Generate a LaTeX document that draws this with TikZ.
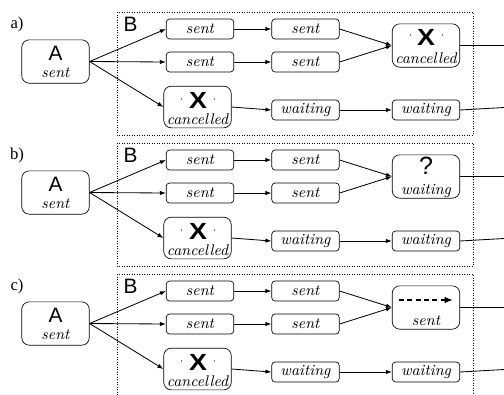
\documentclass[tikz,border=0pt]{standalone}
\usepackage{fontspec}
\setmainfont{Liberation Serif}
\setsansfont{Liberation Sans}
\newfontfamily\stitfont{Latin Modern Roman}
\usetikzlibrary{arrows.meta}

\tikzset{
  state/.style={draw, rounded corners=2pt, minimum width=40.5pt, minimum height=12pt, inner sep=0pt, font=\fontsize{9.3}{10}\selectfont\stitfont\itshape},
  bigstate/.style={draw, rounded corners=4.5pt, minimum width=40.5pt, minimum height=26pt, inner sep=0pt},
  stext/.style={font=\fontsize{9.3}{10}\selectfont\stitfont\itshape, inner sep=0pt, anchor=base},
  bigletter/.style={font=\fontsize{12.5}{14}\selectfont\sffamily, inner sep=0pt},
  xmark/.style={font=\fontsize{14}{16}\selectfont\sffamily\bfseries, inner sep=0pt, xscale=1.15},
  qmark/.style={font=\fontsize{15}{17}\selectfont\sffamily, inner sep=0pt},
  tickmark/.style={gray, line width=0.4pt},
  group/.style={densely dotted, line width=0.5pt},
  link/.style={-{Latex[length=3.6pt,width=2.6pt]}, line width=0.5pt},
  dasharrow/.style={-{Latex[length=5pt,width=4pt]}, line width=1.3pt, dash pattern=on 3pt off 2pt},
  panellabel/.style={font=\fontsize{10}{12}\selectfont, inner sep=0pt},
}

\begin{document}
\begin{tikzpicture}[x=0.6pt, y=-0.6pt]
  \useasboundingbox (0,0) rectangle (504,394);
  \clip (0,0) rectangle (504,394);

  % the three panels share everything but the merged state
  \foreach \lab/\off/\mstate in {a/0/cancelled, b/131/waiting, c/262/sent} {
    \begin{scope}[shift={(0,\off)}]
      \node[panellabel] (lbl\lab) at (17,24) {\lab)};
      \draw[group] (117,12) rectangle (473,135);
      \node[bigletter] (B\lab) at (130.5,24) {B};

      % process A
      \node[bigstate] (A\lab) at (55.5,61.5) {};
      \node[bigletter] (At\lab) at (55.5,53.5) {A};
      \node[stext] (As\lab) at (55.5,77) {sent};

      % first column
      \node[state] (s1\lab) at (200,29) {sent};
      \node[state] (s2\lab) at (200,62) {sent};
      \node[bigstate, minimum height=25pt] (c1\lab) at (197.5,107) {};
      \node[xmark] (x1\lab) at (198,100.5) {X};
      \node[stext] (c1t\lab) at (197.5,124.5) {cancelled};
      \draw[tickmark] ([xshift=-10pt,yshift=0.5pt]x1\lab.center) -- ++(0,1.3pt);
      \draw[tickmark] ([xshift=10pt,yshift=0.5pt]x1\lab.center) -- ++(0,1.3pt);

      % second column
      \node[state] (t1\lab) at (305.5,29) {sent};
      \node[state] (t2\lab) at (305.5,62) {sent};
      \node[state] (w1\lab) at (305.5,110) {waiting};

      % third column
      \node[bigstate] (m\lab) at (426,45.5) {};
      \node[stext] (mt\lab) at (426,63) {\mstate};
      \node[state] (w2\lab) at (426,110) {waiting};

      \coordinate (om\lab) at (504,45.5);
      \coordinate (ow\lab) at (504,107.5);

      \draw[link] (A\lab.east) -- (s1\lab.west);
      \draw[link] (A\lab.east) -- (s2\lab.west);
      \draw[link] (A\lab.east) -- (c1\lab.west);
      \draw[link] (s1\lab.east) -- (t1\lab.west);
      \draw[link] (s2\lab.east) -- (t2\lab.west);
      \draw[link] (c1\lab.east) -- (w1\lab.west);
      \draw[link] (w1\lab.east) -- (w2\lab.west);
      \draw[link] (t1\lab.east) -- (m\lab.west);
      \draw[link] (t2\lab.east) -- (m\lab.west);
      \draw[line width=0.5pt] (m\lab.east) -- (om\lab);
      \draw[line width=0.5pt] (w2\lab.east) -- (ow\lab);
    \end{scope}
  }

  % a) merged state cancelled
  \node[xmark] (xa) at (426,37) {X};
  \draw[tickmark] ([xshift=-9.5pt,yshift=0.5pt]xa.center) -- ++(0,1.3pt);
  \draw[tickmark] ([xshift=9.5pt,yshift=0.5pt]xa.center) -- ++(0,1.3pt);

  % b) merged state still open
  \node[qmark] (qb) at (426,166) {?};

  % c) merged state forwarded
  \coordinate (dsc) at (399,300);
  \coordinate (dtc) at (453,300);
  \draw[dasharrow] (dsc) -- (dtc);
\end{tikzpicture}
\end{document}
